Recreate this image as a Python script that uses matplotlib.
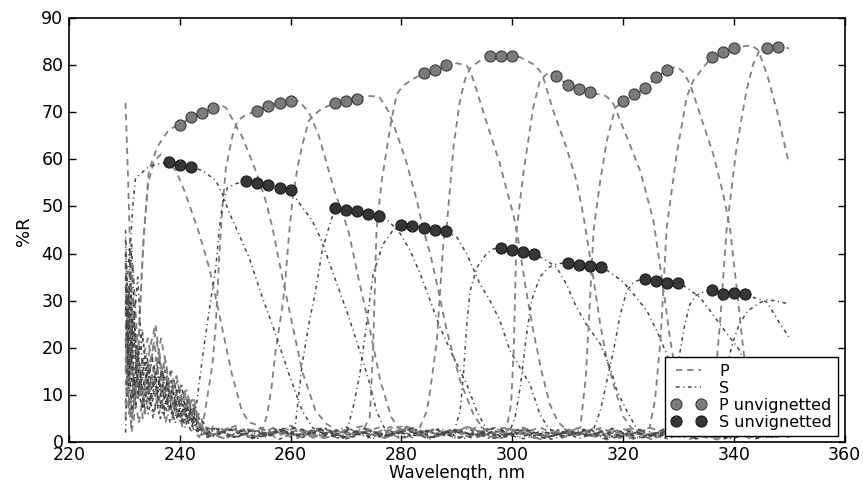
"""
Reflectance bands of the multilayer mirrors, P and S polarisation,
with the unvignetted measurement points on top.
"""
import numpy as np
import matplotlib
matplotlib.use("Agg")
import matplotlib.pyplot as plt

# ── P curves (wavelength nm, %R) ─────────────────────────────────────
p_0 = [(230.2, 38), (230.7, 15), (231.2, 4), (231.8, 9), (232.3, 14), (232.8, 28), (233.5, 44),
       (234.3, 55), (235.3, 59.5), (236.5, 61), (237.5, 60.5), (238.5, 58.5), (239.3, 57.6),
       (240.8, 53.4), (242.3, 48.4), (243.5, 44.2), (245.3, 37), (247.0, 27.8), (249.4, 14.4),
       (251.2, 6.6), (252.5, 4.2), (254.0, 3.6), (257, 1.2), (261, 3.1), (265, 0.8), (270, 2.6),
       (275, 1.5), (280, 3.3), (285, 0.9), (290, 2.2), (295, 1.4), (300, 3.0), (305, 0.6),
       (310, 2.4), (315, 1.1), (320, 2.8), (325, 0.7), (330, 1.9), (335, 1.3), (340, 2.5),
       (345, 0.9), (350, 1.6)]
p_a = [(230.2, 72), (230.6, 58), (231.0, 42), (231.4, 24), (231.8, 8), (232.3, 14), (232.8, 28),
       (233.5, 44), (234.4, 57.5), (235.9, 62.6), (238.1, 66.4), (240, 67.3), (242, 68.9),
       (244, 69.8), (246, 71.0), (247.5, 71.4), (248.3, 71), (249.5, 68.5), (251.3, 64.7),
       (253.7, 57.6), (255.5, 51.2), (256.7, 45.6), (258.5, 35), (260.3, 25), (262.1, 15),
       (264.5, 6.6), (266.5, 3.8), (269, 2.1), (273, 3.4), (277, 0.9), (282, 2.7), (287, 1.6),
       (292, 3.2), (297, 0.8), (302, 2.3), (307, 1.2), (312, 2.9), (317, 0.5), (322, 2.0),
       (327, 1.4), (332, 2.6), (337, 0.9), (342, 1.8), (347, 1.1), (350, 1.5)]
p_b = [(230.2, 28), (230.7, 10), (231.3, 2), (232.2, 9), (233.2, 17), (234.2, 22), (235.2, 16),
       (236.2, 6), (237.2, 10), (238.3, 13), (239.4, 8), (240.5, 3), (241.5, 6), (242.5, 2.5),
       (243.5, 1), (244.5, 6), (245.9, 16.6), (246.5, 25), (247.1, 39), (247.7, 50), (248.3, 58),
       (249.5, 65), (250.4, 68.2), (252, 69.5), (254, 70.3), (256, 71.4), (258, 72.0), (260, 72.3),
       (261.5, 72.4), (263.3, 70), (265.1, 65), (266.3, 60), (268, 53), (270.4, 45), (272.4, 34),
       (274.3, 24), (276.2, 13), (278.2, 5.2), (279.5, 3), (282, 1.1), (286, 2.8), (290, 0.7),
       (294, 2.4), (298, 1.5), (302, 3.1), (306, 0.9), (310, 2.2), (314, 1.3), (318, 2.7),
       (322, 0.6), (326, 2.0), (330, 1.2), (334, 2.5), (338, 0.8), (342, 1.7), (346, 1.2),
       (350, 1.9)]
p_c = [(230.2, 18), (230.8, 6), (231.6, 12), (232.6, 4), (233.6, 11), (234.6, 20), (235.6, 25),
       (236.6, 15), (237.6, 8), (238.6, 11), (239.6, 13), (240.6, 6), (241.6, 9), (242.6, 4),
       (244, 1.5), (247, 3.2), (250, 1.0), (253, 2.5), (254.8, 2), (255.8, 6), (256.6, 12),
       (257.3, 19.4), (258.5, 28.6), (259.1, 35), (259.7, 44), (260.3, 51), (261.2, 58),
       (262.1, 63), (263.3, 68.2), (265.1, 70.3), (266.5, 71.2), (268, 71.9), (270, 72.3),
       (272, 72.9), (273.5, 73.5), (276, 73.3), (277.6, 70.3), (279.2, 65.4), (281, 59),
       (282.8, 51.2), (284, 44.9), (285.2, 40), (286.7, 32), (288.2, 23.6), (290.6, 13),
       (293, 5.9), (294.5, 3.2), (297, 1.0), (301, 2.6), (305, 0.6), (309, 2.9), (313, 1.4),
       (317, 2.3), (321, 0.8), (325, 3.0), (329, 1.1), (333, 2.1), (337, 0.5), (341, 2.6),
       (345, 1.3), (350, 1.8)]
p_d = [(230.2, 12), (230.9, 26), (231.7, 8), (232.7, 15), (233.7, 6), (234.7, 13), (235.7, 18),
       (236.7, 10), (237.7, 14), (238.7, 5), (239.8, 9), (240.8, 11), (241.8, 5), (242.8, 7),
       (244.5, 2.2), (248, 0.8), (252, 2.9), (256, 1.2), (260, 3.3), (264, 1.0), (268, 2.4),
       (271, 1.4), (273.3, 3), (274.3, 5.3), (274.9, 20), (275.5, 44.9), (276.4, 55),
       (277.4, 62.5), (278.3, 69), (279.2, 73.9), (280.3, 75.6), (281.6, 76.7), (284, 78.3),
       (286, 79.0), (288, 80.0), (290, 80.4), (291.8, 79.9), (292.5, 78.5), (293.5, 75),
       (294.9, 69.6), (296.3, 64.5), (297.8, 59), (299, 53.5), (300.2, 48.4), (301.1, 43),
       (302.4, 33), (303.8, 23.6), (305.3, 15), (306.8, 8), (308.3, 4.2), (311, 1.3), (315, 3.0),
       (319, 0.7), (323, 2.3), (327, 1.5), (331, 3.2), (335, 0.9), (339, 2.1), (343, 1.2),
       (347, 2.6), (350, 1.0)]
p_e = [(230.2, 22), (230.8, 9), (231.5, 31), (232.4, 12), (233.4, 7), (234.4, 16), (235.4, 21),
       (236.4, 12), (237.4, 4), (238.4, 9), (239.4, 14), (240.4, 8), (241.4, 10), (242.4, 6),
       (243.4, 3), (246, 1.5), (250, 3.4), (254, 0.9), (258, 2.6), (262, 1.1), (266, 3.0),
       (270, 0.7), (274, 2.5), (278, 1.3), (281, 2.8), (283.3, 3), (284.6, 6.6), (285.2, 10.9),
       (286.4, 21.5), (287, 32), (287.6, 42.7), (288.2, 46), (289.4, 62.5), (290.5, 72),
       (291.5, 77), (292.5, 79.5), (294, 80.8), (296, 81.9), (298, 81.9), (300, 81.9),
       (301.4, 81.7), (303.8, 80.2), (305, 78.8), (305.6, 77.4), (307.4, 70.3), (309.8, 62.5),
       (311.6, 55.5), (312.8, 48.4), (314.5, 36), (315.9, 25), (317, 18), (318.3, 12.3),
       (320, 5.5), (321.5, 3), (324, 1.2), (328, 2.9), (332, 0.6), (336, 2.2), (340, 1.5),
       (344, 2.7), (347, 0.9), (350, 1.7)]
p_f = [(230.2, 8), (230.7, 20), (231.4, 5), (232.3, 14), (233.3, 10), (234.3, 17), (235.3, 12),
       (236.3, 19), (237.3, 11), (238.3, 7), (239.3, 10), (240.3, 12), (241.3, 7), (242.3, 9),
       (243.3, 4), (245, 1.1), (249, 2.7), (253, 0.8), (257, 3.1), (261, 1.4), (265, 2.5),
       (269, 0.6), (273, 2.9), (277, 1.2), (281, 3.3), (285, 1.0), (289, 2.4), (293, 1.6),
       (296.5, 3), (299, 3), (299.8, 8), (300.3, 20), (300.8, 44.9), (302, 56.9), (303.8, 71),
       (305, 76.7), (306.2, 78.1), (308, 77.6), (310, 75.8), (312, 75.0), (314, 74.2),
       (316.8, 73.5), (318, 72.4), (318.6, 70.9), (320.7, 64.7), (323.1, 57.6), (325.5, 47),
       (327, 35), (328.5, 22), (330, 11), (331.5, 5), (332.7, 3), (335, 1.3), (339, 2.8),
       (343, 0.7), (347, 2.2), (350, 1.4)]
p_g = [(230.2, 15), (230.8, 33), (231.6, 10), (232.5, 18), (233.5, 9), (234.5, 14), (235.5, 23),
       (236.5, 17), (237.5, 12), (238.5, 15), (239.5, 10), (240.5, 5), (241.5, 8), (242.5, 9.5),
       (243.5, 3.5), (246, 2.6), (250, 0.9), (254, 3.0), (258, 1.5), (262, 2.7), (266, 0.8),
       (270, 2.1), (274, 1.3), (278, 3.2), (282, 0.9), (286, 2.6), (290, 1.2), (294, 3.4),
       (298, 0.8), (302, 2.6), (306, 1.3), (309.5, 2.5), (312.3, 3), (313.3, 14), (314, 29),
       (314.7, 45), (315.9, 55.5), (317.1, 64), (318.6, 70.9), (320, 72.3), (322, 73.8),
       (324, 75.1), (326, 77.4), (328, 79.0), (329.7, 79.7), (330.9, 78.5), (332.1, 76),
       (333.9, 69.6), (336.3, 61.1), (338.1, 52.6), (339.3, 45.6), (340.5, 33), (341.5, 22),
       (342.5, 12), (343.5, 5.5), (345, 3), (347, 1.2), (350, 2.3)]
p_h = [(230.2, 5), (230.9, 18), (231.7, 28), (232.6, 9), (233.6, 13), (234.6, 8), (235.6, 15),
       (236.6, 22), (237.6, 16), (238.6, 6), (239.6, 11), (240.6, 9), (241.6, 4), (242.6, 8),
       (244, 2.5), (248, 0.7), (252, 2.8), (256, 1.4), (260, 3.5), (264, 0.9), (268, 2.3),
       (272, 1.6), (276, 3.1), (280, 0.6), (284, 2.5), (288, 1.5), (292, 3.2), (296, 1.0),
       (300, 2.7), (304, 0.8), (308, 2.2), (312, 1.4), (316, 3.0), (320, 0.9), (322.5, 2.4),
       (324.8, 3), (325.8, 9), (326.8, 22), (327.9, 45.6), (329.7, 61.1), (331.5, 73.2),
       (332.7, 76.7), (334.5, 79.5), (336, 81.7), (338, 82.8), (340, 83.6), (341.8, 84.0),
       (343.2, 84.2), (344.4, 83.2), (346, 78.1), (347.8, 70.3), (349, 64), (350, 59)]
p_i = [(230.2, 25), (230.8, 14), (231.5, 38), (232.4, 20), (233.3, 5), (234.3, 10), (235.3, 16),
       (236.3, 9), (237.3, 18), (238.3, 10), (239.3, 6), (240.3, 10), (241.3, 11), (242.3, 4),
       (243.5, 6), (245.5, 1.2), (249, 3.1), (253, 1.0), (257, 2.4), (261, 0.7), (265, 2.9),
       (269, 1.3), (273, 2.2), (277, 0.8), (281, 3.0), (285, 1.2), (289, 2.6), (293, 0.7),
       (297, 2.4), (301, 1.5), (305, 3.1), (309, 0.9), (313, 2.3), (317, 1.2), (321, 2.8),
       (325, 0.6), (329, 2.0), (332.5, 2.8), (335.3, 3), (336.4, 10), (337.5, 25), (338.7, 44.9),
       (340.5, 62.5), (342.3, 74.6), (343.5, 80.2), (344.6, 83.0), (346, 83.6), (348, 83.8),
       (350, 83.6)]

# ── S curves (wavelength nm, %R) ─────────────────────────────────────
s_a = [(230.2, 2), (230.6, 20), (231.0, 40), (231.5, 50), (232.0, 56), (233.0, 57), (234.4, 58.4),
       (236.0, 59), (238, 59.4), (240, 58.7), (242, 58.4), (244.1, 57.6), (246.5, 55.5),
       (247.7, 52.6), (248.8, 49), (250.1, 45.6), (252.5, 39.2), (254.9, 30.7), (257.3, 22.9),
       (259.7, 14.4), (262.1, 6.6), (264, 3.0), (267, 1.0), (271, 2.6), (275, 0.8), (279, 2.0),
       (283, 1.3), (287, 2.9), (291, 0.7), (295, 1.8), (299, 1.1), (303, 2.4), (307, 0.6),
       (311, 1.9), (315, 1.2), (319, 2.5), (323, 0.8), (327, 1.6), (331, 1.0), (335, 2.2),
       (339, 0.7), (343, 1.5), (347, 1.1), (350, 1.3)]
s_b = [(230.2, 43), (230.7, 20), (231.3, 6), (232.2, 15), (233.2, 24), (234.2, 12), (235.2, 5),
       (236.2, 11), (237.2, 16), (238.2, 8), (239.2, 4), (240.2, 9), (241.2, 6), (242, 2),
       (243, 8), (244.1, 18), (245.3, 28), (246.5, 37), (247.1, 45), (247.7, 50.5), (248.6, 54),
       (250.1, 54.8), (252, 55.5), (254, 54.9), (256, 54.5), (258, 54.0), (260, 53.4),
       (262.1, 49.8), (263.9, 47), (265.5, 43), (267.7, 35.7), (270.1, 27.9), (271.9, 21.5),
       (273.1, 17), (274.3, 12.3), (275.5, 6.6), (277, 2.8), (280, 0.9), (284, 2.4), (288, 1.2),
       (292, 2.8), (296, 0.6), (300, 2.0), (304, 1.4), (308, 2.7), (312, 0.8), (316, 2.1),
       (320, 1.1), (324, 2.5), (328, 0.7), (332, 1.8), (336, 1.3), (340, 2.3), (344, 0.9),
       (348, 1.7), (350, 1.2)]
s_c = [(230.2, 35), (230.8, 14), (231.5, 26), (232.4, 10), (233.4, 18), (234.4, 9), (235.4, 14),
       (236.4, 7), (237.4, 12), (238.4, 10), (239.4, 5), (240.4, 8), (241.4, 4), (242.4, 6),
       (243.5, 2), (246, 3.3), (249, 1.0), (252, 2.7), (255, 0.9), (258, 2.2), (260.8, 3),
       (262.1, 16.6), (263.3, 25), (264.5, 32.1), (265.7, 40.6), (266.9, 45.5), (268, 49.7),
       (270, 49.2), (272, 49.0), (274, 48.5), (276, 48.0), (277.8, 46.8), (279.8, 44.2),
       (281.6, 40.6), (283.4, 35.7), (285.2, 30), (287, 24.3), (289.4, 18), (291.8, 12.3),
       (293.6, 6.6), (295.2, 3), (298, 1.1), (302, 2.6), (306, 0.7), (310, 2.3), (314, 1.5),
       (318, 2.9), (322, 0.8), (326, 2.0), (330, 1.2), (334, 2.6), (338, 0.6), (342, 1.9),
       (346, 1.3), (350, 2.0)]
s_d = [(230.2, 28), (230.9, 41), (231.6, 12), (232.5, 20), (233.5, 7), (234.5, 15), (235.5, 10),
       (236.5, 5), (237.5, 9), (238.5, 6), (239.5, 11), (240.5, 4), (241.5, 7), (242.5, 3),
       (244, 1.5), (247, 2.8), (250, 0.8), (253, 2.5), (256, 1.2), (259, 3.0), (262, 0.9),
       (265, 2.3), (268, 1.4), (270.2, 2.5), (271.3, 7.4), (272.5, 14.4), (273.7, 25),
       (274.9, 35.7), (276.7, 42), (278.5, 45), (280, 46.1), (282, 45.9), (284, 45.4), (286, 44.9),
       (288, 44.7), (290, 43.5), (291.8, 39.9), (294.2, 33.5), (296, 30), (297.8, 25.7),
       (299.6, 19.4), (301.4, 15.8), (303.2, 12.3), (305, 5.9), (306.5, 3), (309, 1.0),
       (313, 2.5), (317, 0.7), (321, 2.2), (325, 1.3), (329, 2.8), (333, 0.6), (337, 1.9),
       (341, 1.1), (345, 2.4), (350, 1.5)]
s_e = [(230.2, 20), (230.7, 32), (231.4, 9), (232.3, 17), (233.3, 22), (234.3, 11), (235.3, 6),
       (236.3, 13), (237.3, 9), (238.3, 15), (239.3, 7), (240.3, 5), (241.3, 9), (242.3, 4),
       (243.5, 5), (246, 1.2), (250, 2.9), (254, 0.8), (258, 2.6), (262, 1.4), (266, 3.1),
       (270, 0.7), (274, 2.4), (278, 1.5), (282, 2.9), (285.5, 1.0), (288, 2.2), (289.6, 2.5),
       (290.6, 6.6), (291.2, 14.4), (291.8, 25), (292.4, 32), (293.6, 37), (295.4, 40),
       (296.6, 41), (298, 41.2), (300, 40.8), (302, 40.3), (304, 40.0), (306.2, 38.5), (308, 37.1),
       (309.8, 33.5), (311.6, 28.6), (313.4, 25), (315.9, 20.8), (317.7, 15.8), (318.9, 10.9),
       (320.7, 6.6), (322.4, 3), (325, 1.2), (329, 2.7), (333, 0.8), (337, 2.1), (341, 1.4),
       (345, 2.6), (350, 1.0)]
s_f = [(230.2, 40), (230.6, 18), (231.2, 30), (232.0, 8), (233.0, 13), (234.0, 19), (235.0, 9),
       (236.0, 14), (237.0, 6), (238.0, 10), (239.0, 13), (240.0, 6), (241.0, 3), (242.0, 7),
       (243.0, 4), (245, 1.0), (249, 2.6), (253, 0.9), (257, 2.8), (261, 1.3), (265, 2.2),
       (269, 0.7), (273, 3.0), (277, 1.2), (281, 2.4), (285, 0.8), (289, 2.7), (293, 1.4),
       (297, 2.3), (299.6, 2.5), (300.5, 5), (301.5, 12), (302.5, 22), (303.5, 30), (305, 35),
       (306.5, 37), (308, 37.8), (310, 38.1), (312, 37.6), (314, 37.4), (316, 37.2), (317.7, 36),
       (320.1, 33.9), (321.9, 31.4), (324.3, 27.9), (326.1, 23.6), (327.9, 18.7), (329.1, 14.4),
       (330.5, 9), (332, 4.5), (333.5, 2.5), (336, 1.0), (340, 2.5), (344, 0.7), (348, 1.9),
       (350, 1.3)]
s_g = [(230.2, 30), (230.8, 12), (231.5, 22), (232.4, 35), (233.3, 14), (234.3, 6), (235.3, 12),
       (236.3, 17), (237.3, 8), (238.3, 4), (239.3, 8), (240.3, 12), (241.3, 5), (242.3, 8),
       (243.4, 2.5), (246, 2.9), (250, 1.1), (254, 2.4), (258, 0.6), (262, 2.7), (266, 1.3),
       (270, 3.2), (274, 0.9), (278, 2.2), (282, 1.6), (286, 2.8), (290, 0.7), (294, 2.3),
       (298, 1.2), (302, 3.0), (306, 0.9), (310, 2.1), (313, 1.5), (314.8, 3), (315.9, 6.6),
       (317.1, 13), (318.3, 19.4), (319.5, 27), (320.7, 32.1), (321.9, 33.9), (323.4, 34.6),
       (324, 34.5), (326, 34.2), (328, 33.8), (330, 33.7), (331.5, 32.8), (333.9, 30.7),
       (335.7, 27.9), (337.5, 25), (339.3, 22.2), (341.1, 19.4), (342.7, 14), (344, 8),
       (345.5, 4), (347, 2.5), (350, 1.6)]
s_h = [(230.2, 45), (230.6, 30), (231.1, 16), (231.9, 24), (232.9, 11), (233.9, 17), (234.9, 8),
       (235.9, 12), (236.9, 15), (237.9, 7), (238.9, 9), (239.9, 5), (240.9, 8), (241.9, 6),
       (243, 3), (245.5, 1.3), (249, 2.8), (253, 0.7), (257, 2.3), (261, 1.4), (265, 2.9),
       (269, 0.8), (273, 2.0), (277, 1.2), (281, 2.6), (285, 0.6), (289, 2.4), (293, 1.3),
       (297, 3.0), (301, 0.9), (305, 2.2), (309, 1.5), (313, 2.7), (317, 0.8), (321, 2.3),
       (325, 1.2), (327, 2.5), (328, 3), (329, 8), (330, 17), (331, 24), (332, 29), (333, 31),
       (334.5, 31.8), (336, 32.3), (338, 31.4), (340, 31.6), (342, 31.4), (344.2, 30.4),
       (346, 29.7), (348.4, 25), (350, 22.2)]
s_i = [(230.2, 33), (230.7, 21), (231.3, 42), (232.1, 16), (233.1, 7), (234.1, 12), (235.1, 18),
       (236.1, 10), (237.1, 6), (238.1, 12), (239.1, 9), (240.1, 4), (241.1, 7), (242.1, 5),
       (243.2, 2), (246, 1.4), (250, 2.9), (254, 0.9), (258, 2.4), (262, 1.2), (266, 2.8),
       (270, 0.6), (274, 2.2), (278, 1.4), (282, 3.0), (286, 0.9), (290, 2.5), (294, 1.2),
       (298, 2.7), (302, 0.7), (306, 2.0), (310, 1.3), (314, 2.6), (318, 0.8), (322, 2.3),
       (326, 1.1), (330, 2.5), (333.5, 1.5), (335.5, 3), (337, 8), (338.5, 15), (339.8, 21),
       (341, 25), (342.5, 27.8), (344.6, 29.5), (346, 30.2), (347.2, 30), (348.5, 29.7),
       (350, 29.3)]

# ── Unvignetted points ───────────────────────────────────────────────
p_unvig_wl = [240, 242, 244, 246, 254, 256, 258, 260, 268, 270, 272, 284, 286, 288,
              296, 298, 300, 308, 310, 312, 314, 320, 322, 324, 326, 328, 336, 338, 340,
              346, 348]
p_unvig_r = [67.3, 68.9, 69.8, 71.0, 70.3, 71.4, 72.0, 72.3, 71.9, 72.3, 72.9, 78.3, 79.0, 80.0,
             81.9, 81.9, 81.9, 77.6, 75.8, 75.0, 74.2, 72.3, 73.8, 75.1, 77.4, 79.0, 81.7, 82.8, 83.6,
             83.6, 83.8]
s_unvig_wl = [238, 240, 242, 252, 254, 256, 258, 260, 268, 270, 272, 274, 276,
              280, 282, 284, 286, 288, 298, 300, 302, 304, 310, 312, 314, 316,
              324, 326, 328, 330, 336, 338, 340, 342]
s_unvig_r = [59.4, 58.7, 58.4, 55.5, 54.9, 54.5, 54.0, 53.4, 49.7, 49.2, 49.0, 48.5, 48.0,
             46.1, 45.9, 45.4, 44.9, 44.7, 41.2, 40.8, 40.3, 40.0, 38.1, 37.6, 37.4, 37.2,
             34.5, 34.2, 33.8, 33.7, 32.3, 31.4, 31.6, 31.4]

p_curves = [p_0, p_a, p_b, p_c, p_d, p_e, p_f, p_g, p_h, p_i]
s_curves = [s_a, s_b, s_c, s_d, s_e, s_f, s_g, s_h, s_i]

# ── Style ────────────────────────────────────────────────────────────
plt.style.use("classic")
plt.rcParams.update({
    "figure.facecolor": "white",
    "savefig.facecolor": "white",
    "font.family": "DejaVu Sans",
    "font.size": 12,
    "axes.linewidth": 1.2,
    "xtick.labelsize": 12.5,
    "ytick.labelsize": 12.5,
    "xtick.major.size": 5,
    "ytick.major.size": 5,
    "xtick.major.width": 1.0,
    "ytick.major.width": 1.0,
    "xtick.major.pad": 2.5,
})

P_COL = "#808080"
S_COL = "#454545"

fig = plt.figure(figsize=(8.63, 4.81), dpi=100)
ax = fig.add_axes([0.080, 0.079, 0.8986, 0.8815])

h_p = h_s = None
for curve in p_curves:
    wl, r = np.array(curve).T
    h_p, = ax.plot(wl, r, color=P_COL, lw=1.3, dashes=(4.5, 3.6), zorder=2)
for curve in s_curves:
    wl, r = np.array(curve).T
    h_s, = ax.plot(wl, r, color=S_COL, lw=1.1, dashes=(2.6, 2.6, 0.8, 2.6), zorder=2)

h_pu, = ax.plot(p_unvig_wl, p_unvig_r, "o", ls="none", ms=8, mfc="#7b7b7b",
                mec="#3c3c3c", mew=0.8, zorder=3)
h_su, = ax.plot(s_unvig_wl, s_unvig_r, "o", ls="none", ms=8, mfc="#363636",
                mec="#1c1c1c", mew=0.8, zorder=3)

ax.set_xlim(220, 360)
ax.set_ylim(0, 90)
ax.set_xticks(np.arange(220, 361, 20))
ax.set_yticks(np.arange(0, 91, 10))
ax.set_xlabel("Wavelength, nm", fontsize=12, labelpad=0)
ax.set_ylabel("%R", fontsize=13, labelpad=6)

leg = ax.legend([h_p, h_s, h_pu, h_su], ["P", "S", "P unvignetted", "S unvignetted"],
                loc="lower right", fontsize=11.5, numpoints=2, handlelength=2.2,
                borderaxespad=0.4, labelspacing=0.12, handletextpad=0.8,
                borderpad=0.4, fancybox=False, framealpha=1)
leg.get_frame().set_edgecolor("black")
leg.get_frame().set_linewidth(1.0)

fig.savefig("out.png", dpi=100)
